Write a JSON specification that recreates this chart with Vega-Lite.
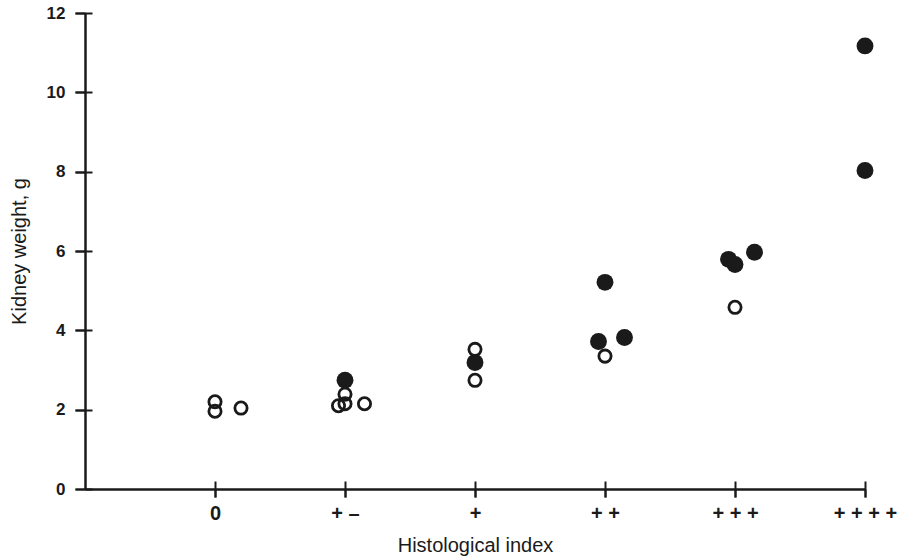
{
  "$schema": "https://vega.github.io/schema/vega-lite/v6.json",
  "width": 780,
  "height": 476,
  "autosize": "none",
  "padding": {"left": 85, "top": 13, "right": 34, "bottom": 71},
  "background": "white",
  "config": {
    "view": {"stroke": null},
    "font": "Liberation Sans"
  },
  "data": {
    "values": [
      {"index": 1.0, "weight": 2.74, "kidney": "filled"},
      {"index": 2.0, "weight": 3.19, "kidney": "filled"},
      {"index": 3.0, "weight": 5.21, "kidney": "filled"},
      {"index": 2.95, "weight": 3.72, "kidney": "filled"},
      {"index": 3.15, "weight": 3.82, "kidney": "filled"},
      {"index": 3.95, "weight": 5.79, "kidney": "filled"},
      {"index": 4.0, "weight": 5.66, "kidney": "filled"},
      {"index": 4.15, "weight": 5.97, "kidney": "filled"},
      {"index": 5.0, "weight": 11.17, "kidney": "filled"},
      {"index": 5.0, "weight": 8.03, "kidney": "filled"},
      {"index": 0.0, "weight": 2.2, "kidney": "open"},
      {"index": 0.0, "weight": 1.96, "kidney": "open"},
      {"index": 0.2, "weight": 2.04, "kidney": "open"},
      {"index": 1.0, "weight": 2.39, "kidney": "open"},
      {"index": 0.95, "weight": 2.1, "kidney": "open"},
      {"index": 1.0, "weight": 2.15, "kidney": "open"},
      {"index": 1.15, "weight": 2.15, "kidney": "open"},
      {"index": 2.0, "weight": 3.52, "kidney": "open"},
      {"index": 2.0, "weight": 2.74, "kidney": "open"},
      {"index": 3.0, "weight": 3.35, "kidney": "open"},
      {"index": 4.0, "weight": 4.58, "kidney": "open"}
    ]
  },
  "layer": [
    {
      "transform": [{"filter": "datum.kidney == 'filled'"}],
      "mark": {"type": "point", "filled": true, "fill": "#1a1a1a", "size": 285, "opacity": 1},
      "encoding": {
        "x": {
          "field": "index", "type": "quantitative",
          "scale": {"domain": [-1, 5], "nice": false, "zero": false},
          "axis": {
            "orient": "bottom",
            "grid": false,
            "values": [0, 1, 2, 3, 4, 5],
            "labelExpr": "['0','+ –','+','+ +','+ + +','+ + + +'][datum.value]",
            "labelFlush": false,
            "labelOverlap": false,
            "labelBound": false,
            "domainColor": "#1a1a1a", "domainWidth": 2.5,
            "tickColor": "#1a1a1a", "tickWidth": 2, "tickSize": 8,
            "labelColor": "#1a1a1a", "labelFontSize": 20, "labelFontWeight": "bold",
            "labelPadding": 6,
            "title": "Histological index",
            "titleColor": "#1a1a1a", "titleFontSize": 20, "titleFontWeight": "normal",
            "titlePadding": 12
          }
        },
        "y": {
          "field": "weight", "type": "quantitative",
          "scale": {"domain": [0, 12], "nice": false},
          "axis": {
            "orient": "left",
            "grid": false,
            "values": [0, 2, 4, 6, 8, 10, 12],
            "labelFlush": false,
            "domainColor": "#1a1a1a", "domainWidth": 2.5,
            "tickColor": "#1a1a1a", "tickWidth": 2, "tickSize": 10,
            "labelColor": "#1a1a1a", "labelFontSize": 17, "labelFontWeight": "bold",
            "labelPadding": 10,
            "title": "Kidney weight, g",
            "titleColor": "#1a1a1a", "titleFontSize": 20, "titleFontWeight": "normal",
            "titlePadding": 17
          }
        }
      }
    },
    {
      "transform": [{"filter": "datum.kidney == 'open'"}],
      "mark": {"type": "point", "filled": false, "stroke": "#1a1a1a", "strokeWidth": 2.8, "size": 150, "opacity": 1},
      "encoding": {
        "x": {
          "field": "index", "type": "quantitative",
          "axis": {"orient": "bottom", "grid": false, "values": [0, 1, 2, 3, 4, 5], "domain": false, "labels": false, "title": null, "tickColor": "#1a1a1a", "tickWidth": 2, "tickSize": 16, "offset": -8}
        },
        "y": {
          "field": "weight", "type": "quantitative",
          "axis": {"orient": "left", "grid": false, "values": [0, 2, 4, 6, 8, 10, 12], "domain": false, "labels": false, "title": null, "tickColor": "#1a1a1a", "tickWidth": 2, "tickSize": 17, "offset": -7}
        }
      }
    }
  ],
  "resolve": {"axis": {"x": "independent", "y": "independent"}}
}
